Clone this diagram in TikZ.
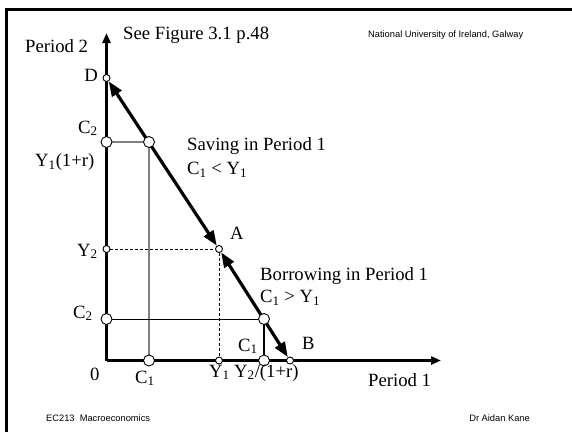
\documentclass[tikz,border=0pt]{standalone}
\usepackage{fontspec}
\setmainfont{Liberation Serif}
\setsansfont{Liberation Sans}
\usepackage{tikz}
\usetikzlibrary{arrows.meta,backgrounds}
\definecolor{cInk} {HTML}{000000}
\definecolor{cGray}{HTML}{808080}

\begin{document}
\begin{tikzpicture}[x=1pt,y=-1pt,
    big/.style={font=\fontsize{18.7}{22}\selectfont,inner sep=0pt},
    tiny/.style={font=\sffamily\fontsize{9.3}{11}\selectfont,inner sep=0pt},
    dot/.style={circle,draw=cInk,fill=white,line width=0.9pt,inner sep=0pt,minimum size=11pt},
    sdot/.style={dot,minimum size=7pt},
    axis/.style={cInk,line width=2.7pt,-{Triangle[length=10pt,width=8pt]}},
    budget/.style={cInk,line width=3.2pt,{Triangle[length=15pt,width=11pt]}-{Triangle[length=15pt,width=11pt]}}]
  \useasboundingbox (0,0) rectangle (572,432);
  \draw[line width=3pt] (6.3,432) -- (6.3,9) -- (572,9); % slide frame

  % points on the axes and on the budget line
  \coordinate (O) at (106.5,360.5);
  \coordinate (ytip) at (106.5,33);
  \coordinate (xtip) at (441,360.5);
  \node[sdot] (D)     at (106.5,78)    {};
  \node[dot]  (Cup)   at (106.5,142)   {};
  \node[dot]  (Sav)   at (149,142)     {};
  \node[sdot] (Ytwo)  at (106.5,249)   {};
  \node[sdot] (A)     at (219,249)     {};
  \node[dot]  (Clow)  at (106.5,319)   {};
  \node[dot]  (Bor)   at (264,319)     {};
  \node[dot]  (ConeL) at (149,360.5)   {};
  \node[sdot] (Yone)  at (219,360.5)   {};
  \node[dot]  (Cone)  at (264,360.5)   {};
  \node[sdot] (B)     at (290,360.5)   {};

  \begin{scope}[on background layer]
    \draw[axis] (O) -- (ytip);
    \draw[axis] (O) -- (xtip);
    \draw[cGray,line width=1.5pt] (Cup) -- (Sav);
    \draw[cGray,line width=1.5pt] (Sav) -- (ConeL);
    \draw[cInk,line width=0.8pt,dash pattern=on 3pt off 2pt] (Ytwo) -- (A);
    \draw[cInk,line width=0.8pt,dash pattern=on 3pt off 2pt] (A) -- (Yone);
    \draw[cInk,line width=1pt] (Clow) -- (Bor);
    \draw[cInk,line width=2.5pt] (Bor) -- (Cone);
    \draw[budget] (D) -- (A); % saving
    \draw[budget] (A) -- (B); % borrowing
  \end{scope}

  % labels
  \node[big,anchor=base west] (lPtwo) at (25,52.5)  {Period 2};
  \node[big,anchor=base west] (lSee)  at (123,39)   {See Figure 3.1 p.48};
  \node[tiny,anchor=base west] (lNui) at (368,37)   {National University of Ireland, Galway};
  \node[big,anchor=base east] (lD)    at (98,81)    {D};
  \node[big,anchor=base west] (lCup)  at (78,133)   {C\textsubscript{2}};
  \node[big,anchor=base west] (lYr)   at (35,166.5) {Y\textsubscript{1}(1+r)};
  \node[big,anchor=base west] (lSav)  at (187,150.5) {Saving in Period 1};
  \node[big,anchor=base west] (lSavc) at (187,174.5) {C\textsubscript{1} < Y\textsubscript{1}};
  \node[big,anchor=base west] (lYtwo) at (77,256)   {Y\textsubscript{2}};
  \node[big,anchor=base west] (lA)    at (230,239)  {A};
  \node[big,anchor=base west] (lBor)  at (260,280.5) {Borrowing in Period 1};
  \node[big,anchor=base west] (lBorc) at (260,302.5) {C\textsubscript{1} > Y\textsubscript{1}};
  \node[big,anchor=base west] (lClow) at (73,318)   {C\textsubscript{2}};
  \node[big,anchor=base west] (lCone) at (238,351)  {C\textsubscript{1}};
  \node[big,anchor=base west] (lB)    at (302,349)  {B};
  \node[big,anchor=base west] (lO)    at (90,380)   {0};
  \node[big,anchor=base west] (lConeL) at (135,383) {C\textsubscript{1}};
  \node[big,anchor=base west] (lYone) at (209,377)  {Y\textsubscript{1}};
  \node[big,anchor=base west] (lYtr)  at (234,377)  {Y\textsubscript{2}/(1+r)};
  \node[big,anchor=base west] (lPone) at (368,386)  {Period 1};
  \node[tiny,anchor=base west] (lEc)  at (46,421)   {EC213\ \ Macroeconomics};
  \node[tiny,anchor=base east] (lDr)  at (530,421)  {Dr Aidan Kane};
\end{tikzpicture}
\end{document}
